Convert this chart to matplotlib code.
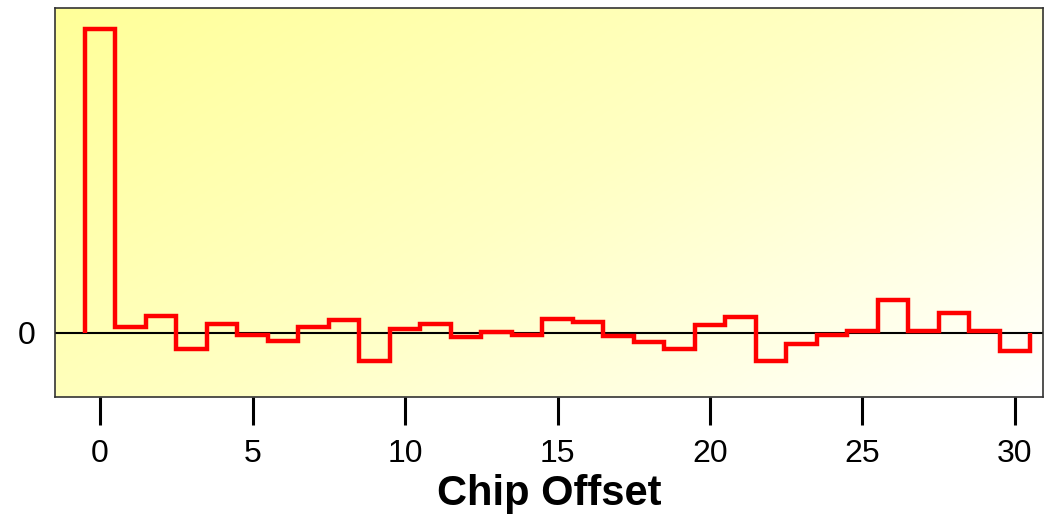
import numpy as np
import matplotlib.pyplot as plt
from matplotlib.colors import LinearSegmentedColormap

plt.rcParams['font.family'] = ['Liberation Sans', 'DejaVu Sans']

# chip offsets and normalised correlation per offset
offsets = np.arange(0, 31)
corr = [1.0, 0.019, 0.055, -0.052, 0.030, -0.008, -0.027, 0.019, 0.044, -0.091,
        0.014, 0.028, -0.014, 0.003, -0.008, 0.047, 0.036, -0.010, -0.030, -0.052,
        0.027, 0.052, -0.092, -0.036, -0.008, 0.006, 0.107, 0.006, 0.067, 0.006,
        -0.061]
xticks = [0, 5, 10, 15, 20, 25, 30]


fig = plt.figure(figsize=(10.51, 5.16), dpi=100)
ax = fig.add_axes([0.0523, 0.2306, 0.9401, 0.7539])

# yellow (top left) -> white (bottom right) background
nx, ny = 400, 200
u = np.linspace(0, 1, nx)[None, :]
v = np.linspace(0, 1, ny)[:, None]
t = np.clip(0.6 * u + 0.4 * v, 0, 1)
cmap = LinearSegmentedColormap.from_list('bg', ['#ffff99', '#ffffc4', '#ffffff'])
ax.imshow(t, cmap=cmap, vmin=0, vmax=1, aspect='auto', extent=[0, 1, 0, 1],
          transform=ax.transAxes, zorder=0, interpolation='bilinear')

ax.axhline(0, color='black', lw=1.5, zorder=1)
edges = np.append(offsets - 0.5, offsets[-1] + 0.5)
ax.stairs(corr, edges, baseline=0, color='red', lw=3.2, zorder=2)

ax.set_xlim(-1.48, 30.92)
ax.set_ylim(-0.211, 1.07)
ax.set_xticks(xticks)
ax.set_yticks([0])
ax.tick_params(axis='x', direction='out', length=20, width=2.2, pad=10,
               labelsize=23)
ax.tick_params(axis='y', length=0, pad=14, labelsize=23)
for s in ax.spines.values():
    s.set_color('#333333')
    s.set_linewidth(1.2)
ax.set_xlabel('Chip Offset', fontsize=30, fontweight='bold', labelpad=4)

fig.savefig('out.png', dpi=100)
